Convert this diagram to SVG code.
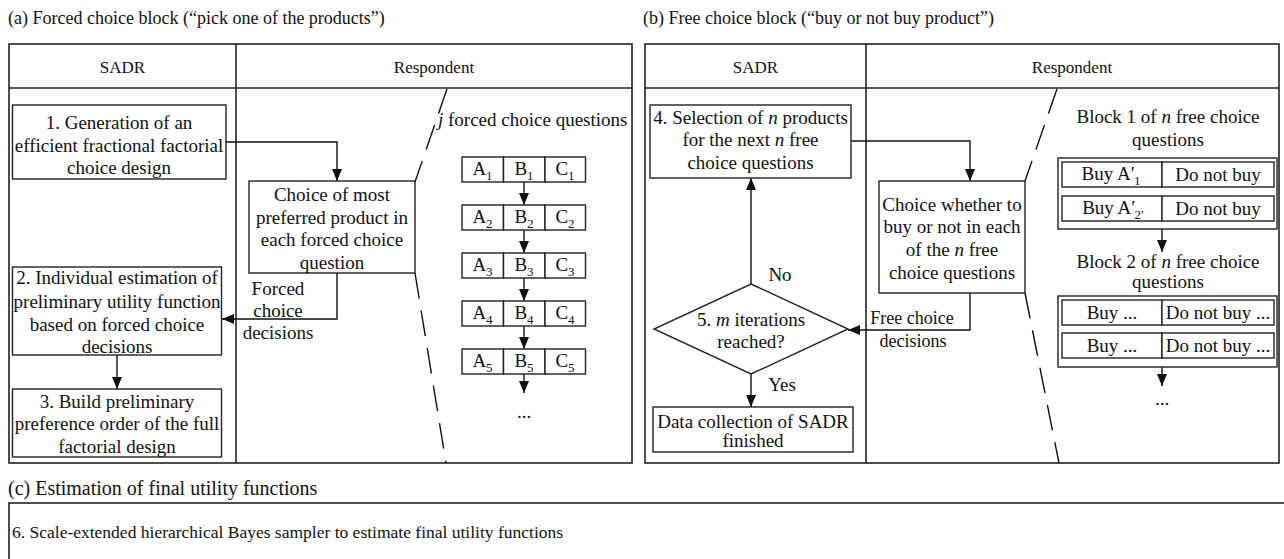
<svg xmlns="http://www.w3.org/2000/svg" width="1284" height="559" viewBox="0 0 1284 559">
  <style>
    text { font-family: "Liberation Serif", "Times New Roman", serif; font-size: 19px; fill: #111; }
    .mid { text-anchor: middle; }
    .sub { font-size: 13px; }
    .it { font-style: italic; }
    .title { font-size: 18px; }
    .head { font-size: 17px; }
    .panel { fill: none; stroke: #222; stroke-width: 1.6; }
    .box { fill: #fff; stroke: #222; stroke-width: 1.4; }
    .line { fill: none; stroke: #111; stroke-width: 1.4; }
    .dash { fill: none; stroke: #111; stroke-width: 1.4; stroke-dasharray: 26 12; }
    .small { font-size: 17.5px; }
  </style>
  <defs>
    <marker id="arrow" markerUnits="userSpaceOnUse" markerWidth="12" markerHeight="10" refX="12" refY="5" orient="auto">
      <path d="M0,0 L12,5 L0,10 z" fill="#111"/>
    </marker>
  </defs>

  <!-- section titles -->
  <text class="title" x="8" y="24">(a) Forced choice block (“pick one of the products”)</text>
  <text class="title" x="643" y="24">(b) Free choice block (“buy or not buy product”)</text>
  <text x="8" y="495" style="font-size:20px">(c) Estimation of final utility functions</text>

  <!-- swimlane frames -->
  <g id="panel-a">
    <rect class="panel" x="9" y="44" width="623" height="419"/>
    <line class="panel" x1="9" y1="88" x2="632" y2="88"/>
    <line class="panel" x1="236" y1="44" x2="236" y2="463"/>
    <text class="mid head" x="122.5" y="73">SADR</text>
    <text class="mid head" x="434" y="73">Respondent</text>
  </g>
  <g id="panel-b">
    <rect class="panel" x="645" y="44" width="634" height="419"/>
    <line class="panel" x1="645" y1="88" x2="1279" y2="88"/>
    <line class="panel" x1="866" y1="44" x2="866" y2="463"/>
    <text class="mid head" x="755.5" y="73">SADR</text>
    <text class="mid head" x="1072" y="73">Respondent</text>
  </g>
  <g id="panel-c">
    <rect class="panel" x="9" y="503" width="1290" height="80"/>
    <text x="12" y="538" class="small">6. Scale-extended hierarchical Bayes sampler to estimate final utility functions</text>
  </g>

  <!-- zoom-out guides -->
  <g id="guides">
    <line class="dash" x1="447" y1="89" x2="415" y2="182"/>
    <line class="dash" x1="415" y1="273" x2="446" y2="463"/>
    <line class="dash" x1="1057" y1="89" x2="1025" y2="181"/>
    <line class="dash" x1="1025" y1="293" x2="1059" y2="463"/>
  </g>

  <!-- connectors -->
  <g id="connectors">
    <polyline class="line" points="226,142 337,142 337,181" marker-end="url(#arrow)"/>
    <polyline class="line" points="337,273 337,319 222,319" marker-end="url(#arrow)"/>
    <line class="line" x1="117" y1="355" x2="117" y2="389" marker-end="url(#arrow)"/>
    <line class="line" x1="524" y1="182" x2="524" y2="205" marker-end="url(#arrow)"/>
    <line class="line" x1="524" y1="230" x2="524" y2="253" marker-end="url(#arrow)"/>
    <line class="line" x1="524" y1="278" x2="524" y2="301" marker-end="url(#arrow)"/>
    <line class="line" x1="524" y1="326" x2="524" y2="349" marker-end="url(#arrow)"/>
    <line class="line" x1="524" y1="374" x2="524" y2="393" marker-end="url(#arrow)"/>
    <polyline class="line" points="851,141 970,141 970,181" marker-end="url(#arrow)"/>
    <polyline class="line" points="970,293 970,330 848,330" marker-end="url(#arrow)"/>
    <line class="line" x1="751" y1="284" x2="751" y2="178" marker-end="url(#arrow)"/>
    <line class="line" x1="751" y1="374" x2="751" y2="407" marker-end="url(#arrow)"/>
    <line class="line" x1="1162" y1="229" x2="1162" y2="252" marker-end="url(#arrow)"/>
    <line class="line" x1="1162" y1="366" x2="1162" y2="386" marker-end="url(#arrow)"/>
    <text class="mid" x="278" y="295">Forced</text>
    <text class="mid" x="278" y="317">choice</text>
    <text class="mid" x="278" y="339">decisions</text>
    <text class="mid" x="912" y="324" style="font-size:18px">Free choice</text>
    <text class="mid" x="913" y="347" style="font-size:18px">decisions</text>
    <text class="mid" x="780" y="281">No</text>
    <text class="mid" x="782" y="391">Yes</text>
  </g>

  <!-- SADR steps, forced choice block -->
  <g id="step1">
    <rect class="box" x="12.5" y="105" width="213.5" height="74"/>
    <text class="mid" x="119" y="129">1. Generation of an</text>
    <text class="mid" x="119" y="152">efficient fractional factorial</text>
    <text class="mid" x="119" y="174">choice design</text>
  </g>
  <g id="step2">
    <rect class="box" x="12.5" y="267" width="209" height="88"/>
    <text class="mid" x="117" y="284">2. Individual estimation of</text>
    <text class="mid" x="117" y="308">preliminary utility function</text>
    <text class="mid" x="117" y="331">based on forced choice</text>
    <text class="mid" x="117" y="353">decisions</text>
  </g>
  <g id="step3">
    <rect class="box" x="12.5" y="389" width="209" height="68"/>
    <text class="mid" x="117" y="408">3. Build preliminary</text>
    <text class="mid" x="117" y="430">preference order of the full</text>
    <text class="mid" x="117" y="453">factorial design</text>
  </g>

  <!-- respondent, forced choice block -->
  <g id="forced-choice">
    <rect class="box" x="249" y="181" width="166" height="92"/>
    <text class="mid" x="332" y="201">Choice of most</text>
    <text class="mid" x="332" y="224">preferred product in</text>
    <text class="mid" x="332" y="246">each forced choice</text>
    <text class="mid" x="332" y="269">question</text>
  </g>
  <g id="forced-questions">
    <text x="438" y="126"><tspan class="it">j</tspan> forced choice questions</text>
    <rect class="box" x="462" y="157" width="41.5" height="25"/>
    <rect class="box" x="503.5" y="157" width="41.5" height="25"/>
    <rect class="box" x="545" y="157" width="40.5" height="25"/>
    <text class="mid" x="482.5" y="175">A<tspan class="sub" dy="5">1</tspan></text>
    <text class="mid" x="524" y="175">B<tspan class="sub" dy="5">1</tspan></text>
    <text class="mid" x="565" y="175">C<tspan class="sub" dy="5">1</tspan></text>
    <rect class="box" x="462" y="205" width="41.5" height="25"/>
    <rect class="box" x="503.5" y="205" width="41.5" height="25"/>
    <rect class="box" x="545" y="205" width="40.5" height="25"/>
    <text class="mid" x="482.5" y="223">A<tspan class="sub" dy="5">2</tspan></text>
    <text class="mid" x="524" y="223">B<tspan class="sub" dy="5">2</tspan></text>
    <text class="mid" x="565" y="223">C<tspan class="sub" dy="5">2</tspan></text>
    <rect class="box" x="462" y="253" width="41.5" height="25"/>
    <rect class="box" x="503.5" y="253" width="41.5" height="25"/>
    <rect class="box" x="545" y="253" width="40.5" height="25"/>
    <text class="mid" x="482.5" y="271">A<tspan class="sub" dy="5">3</tspan></text>
    <text class="mid" x="524" y="271">B<tspan class="sub" dy="5">3</tspan></text>
    <text class="mid" x="565" y="271">C<tspan class="sub" dy="5">3</tspan></text>
    <rect class="box" x="462" y="301" width="41.5" height="25"/>
    <rect class="box" x="503.5" y="301" width="41.5" height="25"/>
    <rect class="box" x="545" y="301" width="40.5" height="25"/>
    <text class="mid" x="482.5" y="319">A<tspan class="sub" dy="5">4</tspan></text>
    <text class="mid" x="524" y="319">B<tspan class="sub" dy="5">4</tspan></text>
    <text class="mid" x="565" y="319">C<tspan class="sub" dy="5">4</tspan></text>
    <rect class="box" x="462" y="349" width="41.5" height="25"/>
    <rect class="box" x="503.5" y="349" width="41.5" height="25"/>
    <rect class="box" x="545" y="349" width="40.5" height="25"/>
    <text class="mid" x="482.5" y="367">A<tspan class="sub" dy="5">5</tspan></text>
    <text class="mid" x="524" y="367">B<tspan class="sub" dy="5">5</tspan></text>
    <text class="mid" x="565" y="367">C<tspan class="sub" dy="5">5</tspan></text>
    <text class="mid" x="524" y="418">...</text>
  </g>

  <!-- SADR steps, free choice block -->
  <g id="step4">
    <rect class="box" x="650" y="105" width="201" height="73"/>
    <text class="mid" x="750.5" y="124">4. Selection of <tspan class="it">n</tspan> products</text>
    <text class="mid" x="750.5" y="146">for the next <tspan class="it">n</tspan> free</text>
    <text class="mid" x="750.5" y="169">choice questions</text>
  </g>
  <g id="step5">
    <polygon class="box" points="751,284 848,329 751,374 654,329"/>
    <text class="mid" x="751" y="326">5. <tspan class="it">m</tspan> iterations</text>
    <text class="mid" x="751" y="348">reached?</text>
  </g>
  <g id="finished">
    <rect class="box" x="653" y="407" width="200" height="45"/>
    <text class="mid" x="753" y="428">Data collection of SADR</text>
    <text class="mid" x="753" y="447">finished</text>
  </g>

  <!-- respondent, free choice block -->
  <g id="free-choice">
    <rect class="box" x="879" y="181" width="146" height="112"/>
    <text class="mid" x="952" y="211">Choice whether to</text>
    <text class="mid" x="952" y="233">buy or not in each</text>
    <text class="mid" x="952" y="256">of the <tspan class="it">n</tspan> free</text>
    <text class="mid" x="952" y="279">choice questions</text>
  </g>
  <g id="block1">
    <text class="mid" x="1168" y="123">Block 1 of <tspan class="it">n</tspan> free choice</text>
    <text class="mid" x="1168" y="146">questions</text>
    <rect class="box" x="1058" y="158" width="219" height="71"/>
    <rect class="box" x="1062" y="162" width="100" height="25"/>
    <rect class="box" x="1162" y="162" width="112" height="25"/>
    <rect class="box" x="1062" y="196" width="100" height="25"/>
    <rect class="box" x="1162" y="196" width="112" height="25"/>
    <text class="mid" x="1111" y="180">Buy A′<tspan class="sub" dx="-1" dy="5">1</tspan></text>
    <text class="mid" x="1218" y="181">Do not buy</text>
    <text class="mid" x="1113" y="214">Buy A′<tspan class="sub" dx="-1" dy="5">2′</tspan></text>
    <text class="mid" x="1218" y="215">Do not buy</text>
  </g>
  <g id="block2">
    <text class="mid" x="1168" y="268">Block 2 of <tspan class="it">n</tspan> free choice</text>
    <text class="mid" x="1168" y="288">questions</text>
    <rect class="box" x="1058" y="296" width="219" height="71"/>
    <rect class="box" x="1062" y="300" width="100" height="25"/>
    <rect class="box" x="1162" y="300" width="112" height="25"/>
    <rect class="box" x="1062" y="333" width="100" height="25"/>
    <rect class="box" x="1162" y="333" width="112" height="25"/>
    <text class="mid" x="1112" y="319">Buy ...</text>
    <text class="mid" x="1218" y="319">Do not buy ...</text>
    <text class="mid" x="1112" y="352">Buy ...</text>
    <text class="mid" x="1218" y="352">Do not buy ...</text>
    <text class="mid" x="1162" y="405">...</text>
  </g>
</svg>
